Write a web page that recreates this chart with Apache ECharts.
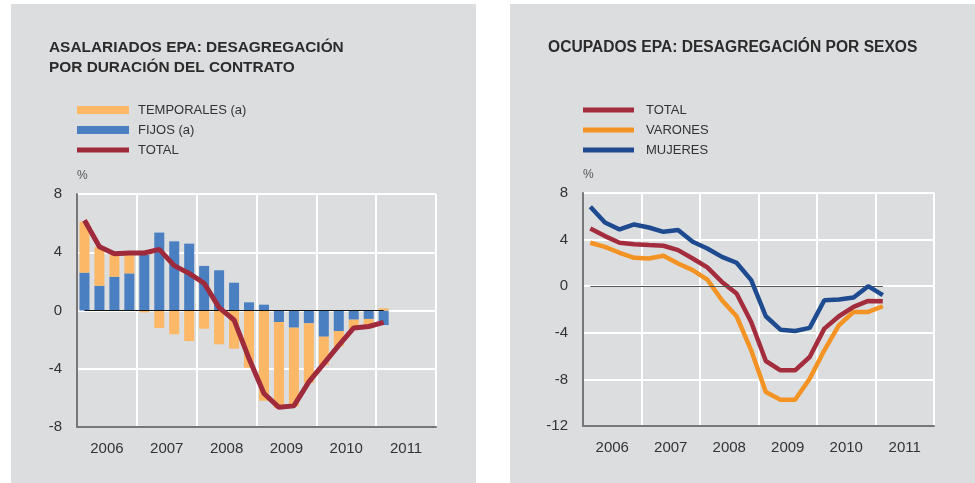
<!DOCTYPE html>
<html>
<head>
<meta charset="utf-8">
<script src="https://cdn.jsdelivr.net/npm/echarts@6/dist/echarts.min.js"></script>
<style>
  body { margin: 0; background: #ffffff; width: 975px; height: 483px; position: relative; overflow: hidden; }
  .panel { position: absolute; top: 4px; width: 465px; height: 479px; background: #dcdddf; }
</style>
</head>
<body>
<div id="left-chart" class="panel" style="left:11px;"></div>
<div id="right-chart" class="panel" style="left:510px;"></div>
<script>

// shared data
var years = ['2006', '2007', '2008', '2009', '2010', '2011'];
var quarterNames = ['I', 'II', 'III', 'IV'];
var quarters = [];
years.forEach(function (y) {
    quarterNames.forEach(function (q) { quarters.push(y + ' ' + q); });
});

// left chart: 2006 I - 2011 I, % change
var temporales = [3.5, 2.65, 1.5, 1.3, -0.13, -1.2, -1.63, -2.1, -1.25, -2.32, -2.62, -3.93, -6.2, -5.9, -5.4, -4.1, -1.95, -1.05, -0.65, -0.45, 0.15];
var fijos = [2.6, 1.7, 2.32, 2.55, 3.81, 5.35, 4.75, 4.59, 3.06, 2.76, 1.91, 0.56, 0.4, -0.79, -1.18, -0.88, -1.8, -1.41, -0.63, -0.58, -1.0];
var totalAsalariados = [6.2, 4.38, 3.9, 3.95, 3.95, 4.2, 3.08, 2.55, 1.87, 0.2, -0.65, -3.3, -5.7, -6.65, -6.55, -4.9, -3.65, -2.4, -1.2, -1.1, -0.82];

// right chart
var totalOcupados = [4.96, 4.3, 3.73, 3.61, 3.53, 3.47, 3.1, 2.38, 1.61, 0.37, -0.63, -3.07, -6.42, -7.22, -7.22, -6.08, -3.64, -2.58, -1.78, -1.26, -1.29];
var varones = [3.73, 3.38, 2.87, 2.44, 2.38, 2.61, 1.95, 1.38, 0.57, -1.2, -2.58, -5.5, -9.09, -9.74, -9.74, -7.94, -5.5, -3.35, -2.21, -2.21, -1.72];
var mujeres = [6.82, 5.47, 4.87, 5.3, 5.04, 4.67, 4.82, 3.81, 3.24, 2.52, 2.01, 0.52, -2.58, -3.73, -3.84, -3.58, -1.2, -1.15, -0.97, 0.0, -0.77];

var font = 'Liberation Sans, Arial, sans-serif';
var textColor = '#333';
var axisColor = '#777';

function xAxes() {
    return [
        {
            // quarters, hidden, used by the series
            type: 'category',
            data: quarters,
            boundaryGap: true,
            show: false
        },
        {
            // years, labels + vertical grid
            type: 'category',
            data: years,
            position: 'bottom',
            boundaryGap: true,
            axisLine: { lineStyle: { color: axisColor, width: 2 } },
            axisTick: { show: false },
            axisLabel: { color: textColor, fontSize: 15, fontFamily: font, margin: 14 },
            splitLine: { show: true, lineStyle: { color: '#ffffff', width: 2 } }
        }
    ];
}

function yAxis(min) {
    return {
        type: 'value',
        min: min,
        max: 8,
        interval: 4,
        name: '%',
        nameLocation: 'end',
        nameGap: 12,
        nameTextStyle: { align: 'left', color: '#555', fontSize: 12, fontFamily: font },
        axisLine: { show: true, lineStyle: { color: axisColor, width: 2 } },
        axisTick: { show: false },
        axisLabel: { color: textColor, fontSize: 15, fontFamily: font, margin: 15 },
        splitLine: { lineStyle: { color: '#ffffff', width: 2 } }
    };
}

function zeroLine(data, color) {
    return {
        silent: true,
        symbol: 'none',
        label: { show: false },
        lineStyle: { color: color, width: 1, type: 'solid' },
        data: [[{ coord: [quarters[0], 0] }, { coord: [quarters[data.length - 1], 0] }]]
    };
}

var thinIcon = 'path://M0,0h52v5h-52z';

// LEFT CHART

var leftChart = echarts.init(document.getElementById('left-chart'));

var leftOption = {
    animation: false,
    title: {
        text: 'ASALARIADOS EPA: DESAGREGACIÓN\nPOR DURACIÓN DEL CONTRATO',
        left: 33,
        top: 29,
        textStyle: { fontFamily: font, fontSize: 15.4, fontWeight: 'bold', color: '#2b2b2b', lineHeight: 19.5 }
    },
    legend: {
        orient: 'vertical',
        left: 61,
        top: 94,
        itemWidth: 52,
        itemHeight: 8,
        itemGap: 6,
        textStyle: { color: textColor, fontSize: 13, fontFamily: font, lineHeight: 14, padding: [0, 0, 0, 4] },
        data: [
            { name: 'TEMPORALES (a)', icon: 'rect' },
            { name: 'FIJOS (a)', icon: 'rect' },
            { name: 'TOTAL', icon: thinIcon }
        ]
    },
    grid: { left: 66, top: 190, width: 359, height: 233 },
    xAxis: xAxes(),
    yAxis: yAxis(-8),
    series: [
        {
            name: 'FIJOS (a)',
            type: 'bar',
            stack: 'contrato',
            barWidth: 10,
            itemStyle: { color: '#4a7fc1' },
            data: fijos
        },
        {
            name: 'TEMPORALES (a)',
            type: 'bar',
            stack: 'contrato',
            barWidth: 10,
            itemStyle: { color: '#fcb866' },
            data: temporales
        },
        {
            name: 'TOTAL',
            type: 'line',
            showSymbol: false,
            z: 5,
            lineStyle: { color: '#9e2a3b', width: 5 },
            itemStyle: { color: '#9e2a3b' },
            data: totalAsalariados,
            markLine: zeroLine(totalAsalariados, '#111')
        }
    ]
};

leftChart.setOption(leftOption);

// RIGHT CHART

var rightChart = echarts.init(document.getElementById('right-chart'));

var rightOption = {
    animation: false,
    title: {
        text: 'OCUPADOS EPA: DESAGREGACIÓN POR SEXOS',
        left: 33,
        top: 29,
        textStyle: { fontFamily: font, fontSize: 15.6, fontWeight: 'bold', color: '#2b2b2b', lineHeight: 19.5 }
    },
    legend: {
        orient: 'vertical',
        left: 68,
        top: 94,
        itemWidth: 51,
        itemHeight: 8,
        itemGap: 6,
        icon: thinIcon,
        textStyle: { color: textColor, fontSize: 13, fontFamily: font, lineHeight: 14, padding: [0, 0, 0, 7] },
        data: ['TOTAL', 'VARONES', 'MUJERES']
    },
    grid: { left: 73, top: 189, width: 351, height: 233 },
    xAxis: xAxes(),
    yAxis: yAxis(-12),
    series: [
        {
            name: 'TOTAL',
            type: 'line',
            showSymbol: false,
            z: 4,
            lineStyle: { color: '#a32c3d', width: 4.5 },
            itemStyle: { color: '#a32c3d' },
            data: totalOcupados,
            markLine: zeroLine(totalOcupados, '#555')
        },
        {
            name: 'VARONES',
            type: 'line',
            showSymbol: false,
            z: 3,
            lineStyle: { color: '#f39323', width: 4.5 },
            itemStyle: { color: '#f39323' },
            data: varones
        },
        {
            name: 'MUJERES',
            type: 'line',
            showSymbol: false,
            z: 5,
            lineStyle: { color: '#1e4b8f', width: 4.5 },
            itemStyle: { color: '#1e4b8f' },
            data: mujeres
        }
    ]
};

rightChart.setOption(rightOption);
</script>
</body>
</html>
